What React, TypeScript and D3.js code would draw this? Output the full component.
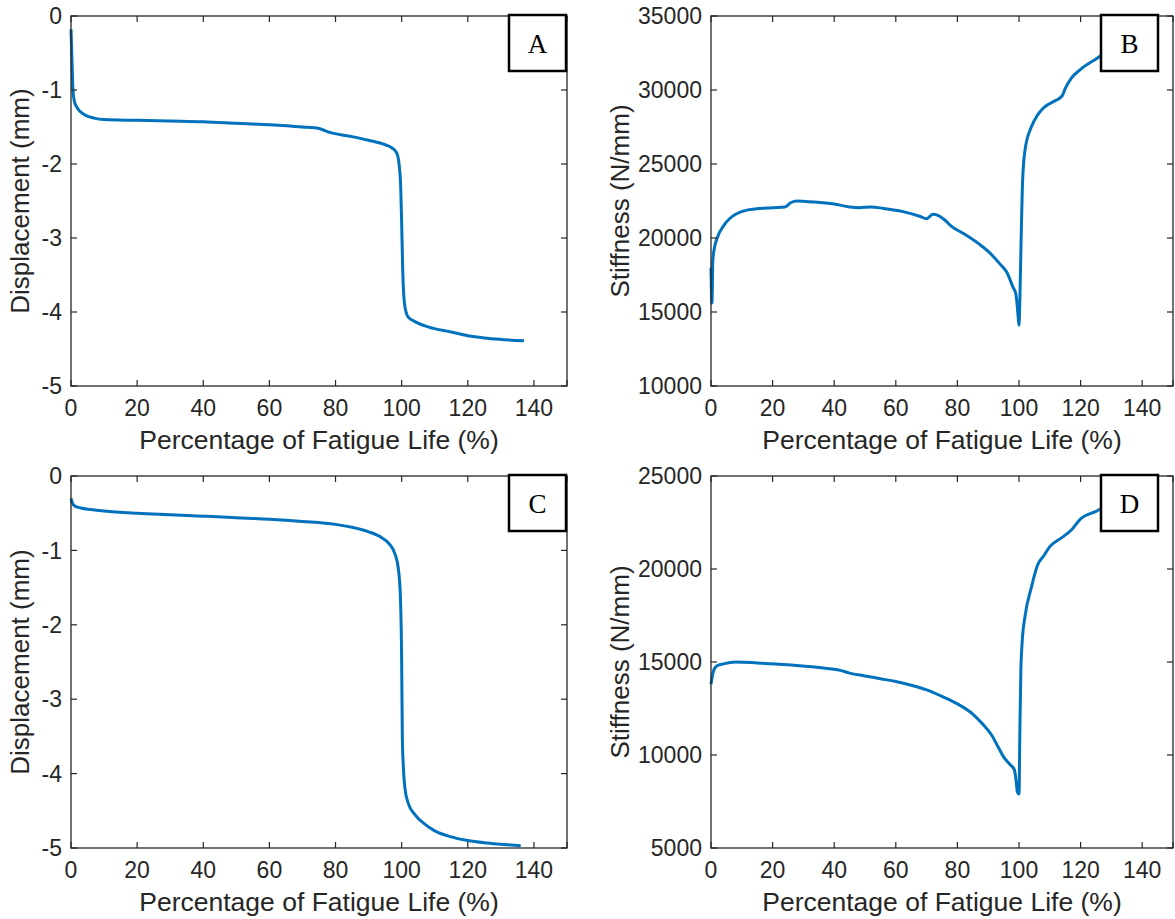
import React from "react";
import * as d3 from "d3";

const lifeA = [0, 0.3, 0.6, 1, 2, 4, 7, 10, 20, 30, 40, 50, 60, 70, 75, 78, 85, 90, 95, 97, 98.5, 99.2, 99.7, 100, 100.3, 100.6, 101.2, 102, 104, 108, 115, 120, 125, 130, 137];
const dispA = [-0.18, -0.6, -1.0, -1.15, -1.25, -1.33, -1.38, -1.4, -1.41, -1.42, -1.43, -1.45, -1.47, -1.5, -1.52, -1.57, -1.63, -1.68, -1.74, -1.78, -1.85, -2.0, -2.3, -2.8, -3.4, -3.75, -3.98, -4.07, -4.13, -4.2, -4.27, -4.32, -4.35, -4.37, -4.39];

const lifeB = [0, 0.3, 0.6, 1, 2, 4, 6, 8, 12, 20, 24, 26, 28, 32, 40, 45, 48, 52, 56, 62, 68, 70, 72, 74, 76, 78, 82, 87, 90, 94, 96, 98, 99, 99.6, 100, 100.3, 100.7, 101.2, 102, 104, 106, 108, 112, 114, 115, 117, 120, 125, 128, 131];
const stiffB = [18000, 15600, 18500, 19200, 20000, 20800, 21300, 21600, 21900, 22050, 22100, 22400, 22500, 22450, 22300, 22100, 22050, 22100, 22000, 21800, 21450, 21300, 21600, 21500, 21200, 20800, 20300, 19600, 19100, 18200, 17700, 16700, 16200, 15000, 14100, 16000, 20000, 24000, 26000, 27500, 28300, 28800, 29300, 29600, 30100, 30800, 31400, 32100, 32500, 32700];

const lifeC = [0, 0.3, 1, 3, 6, 10, 20, 30, 40, 50, 60, 70, 80, 85, 90, 94, 96, 98, 99, 99.6, 100, 100.2, 100.5, 101, 102, 104, 107, 110, 115, 120, 125, 130, 136];
const dispC = [-0.3, -0.35, -0.4, -0.43, -0.45, -0.47, -0.5, -0.52, -0.54, -0.56, -0.58, -0.61, -0.65, -0.69, -0.75, -0.83, -0.9, -1.05, -1.25, -1.6, -2.5, -3.5, -3.9, -4.2, -4.4, -4.55, -4.68, -4.77, -4.85, -4.9, -4.93, -4.95, -4.97];

const lifeD = [0, 0.5, 1, 2, 4, 8, 15, 25, 35, 42, 45, 50, 55, 60, 65, 70, 75, 80, 85, 88, 91, 93, 95, 97, 98.5, 99, 99.5, 100, 100.3, 100.6, 101, 102, 104, 106, 108, 110, 114, 117, 120, 125, 130, 131];
const stiffD = [13800, 14300, 14600, 14800, 14900, 15000, 14950, 14850, 14700, 14550, 14400, 14250, 14100, 13950, 13750, 13500, 13150, 12750, 12200, 11700, 11100, 10500, 9900, 9500, 9200, 8700, 8000, 7900, 11500, 14500, 16000, 17500, 19000, 20200, 20700, 21200, 21700, 22100, 22700, 23100, 23500, 23600];

const xTicks = [0, 20, 40, 60, 80, 100, 120, 140];
const dispTicks = [0, -1, -2, -3, -4, -5];
const stiffTicksB = [10000, 15000, 20000, 25000, 30000, 35000];
const stiffTicksD = [5000, 10000, 15000, 20000, 25000];

const ink = "#262626";
const blue = "#0072BD";
const font = "'Liberation Sans', Arial, sans-serif";

const Panel = (props) => {
  const { left, right, top, bottom, xs, ys, yDomain, yTicks, ylabel, ylabelX, titleX, letter, boxX } = props;
  const x = d3.scaleLinear().domain([0, 150]).range([left, right]);
  const y = d3.scaleLinear().domain(yDomain).range([bottom, top]);
  const line = d3
    .line<number>()
    .x((d, i) => x(xs[i]))
    .y((d) => y(d))
    .curve(d3.curveMonotoneX);
  const tl = 6;
  return (
    <g>
      <path d={line(ys) || ""} fill="none" stroke={blue} strokeWidth={3} strokeLinejoin="round" />
      <rect x={left} y={top} width={right - left} height={bottom - top} fill="none" stroke={ink} strokeWidth={1.3} />
      {xTicks.concat([150]).map((t) => (
        <g key={"x" + t}>
          <line x1={x(t)} x2={x(t)} y1={bottom} y2={bottom - tl} stroke={ink} strokeWidth={1.2} />
          <line x1={x(t)} x2={x(t)} y1={top} y2={top + tl} stroke={ink} strokeWidth={1.2} />
        </g>
      ))}
      {xTicks.map((t) => (
        <text key={"xl" + t} x={x(t)} y={bottom + 30} textAnchor="middle" fontSize={23} fill={ink} fontFamily={font}>
          {t}
        </text>
      ))}
      {yTicks.map((t) => (
        <g key={"y" + t}>
          <line x1={left} x2={left + tl} y1={y(t)} y2={y(t)} stroke={ink} strokeWidth={1.2} />
          <line x1={right} x2={right - tl} y1={y(t)} y2={y(t)} stroke={ink} strokeWidth={1.2} />
          <text x={left - 9} y={y(t)} dy="0.36em" textAnchor="end" fontSize={23} fill={ink} fontFamily={font}>
            {t}
          </text>
        </g>
      ))}
      <text x={titleX} y={bottom + 63} textAnchor="middle" fontSize={26.5} fill={ink} fontFamily={font}>
        Percentage of Fatigue Life (%)
      </text>
      <text
        transform={`translate(${ylabelX},${(top + bottom) / 2}) rotate(-90)`}
        textAnchor="middle"
        fontSize={26}
        fill={ink}
        fontFamily={font}
      >
        {ylabel}
      </text>
      <rect x={boxX} y={top - 1} width={57} height={56} fill="#fff" stroke="#000" strokeWidth={2.5} />
      <text x={boxX + 28.5} y={top + 37} textAnchor="middle" fontSize={27} fontFamily="'Liberation Serif', 'Times New Roman', serif" fill="#000">
        {letter}
      </text>
    </g>
  );
};

export default function App() {
  return (
    <svg width={1175} height={919} style={{ position: "absolute", left: 0, top: 0, background: "#fff" }}>
      <Panel left={71} right={567} top={16} bottom={386} xs={lifeA} ys={dispA} yDomain={[-5, 0]} yTicks={dispTicks}
        ylabel="Displacement (mm)" ylabelX={29} titleX={319} letter="A" boxX={509} />
      <Panel left={711} right={1173} top={16} bottom={386} xs={lifeB} ys={stiffB} yDomain={[10000, 35000]} yTicks={stiffTicksB}
        ylabel="Stiffness (N/mm)" ylabelX={629} titleX={942} letter="B" boxX={1101} />
      <Panel left={71} right={567} top={476} bottom={848} xs={lifeC} ys={dispC} yDomain={[-5, 0]} yTicks={dispTicks}
        ylabel="Displacement (mm)" ylabelX={29} titleX={319} letter="C" boxX={509} />
      <Panel left={711} right={1173} top={476} bottom={848} xs={lifeD} ys={stiffD} yDomain={[5000, 25000]} yTicks={stiffTicksD}
        ylabel="Stiffness (N/mm)" ylabelX={629} titleX={942} letter="D" boxX={1101} />
    </svg>
  );
}
